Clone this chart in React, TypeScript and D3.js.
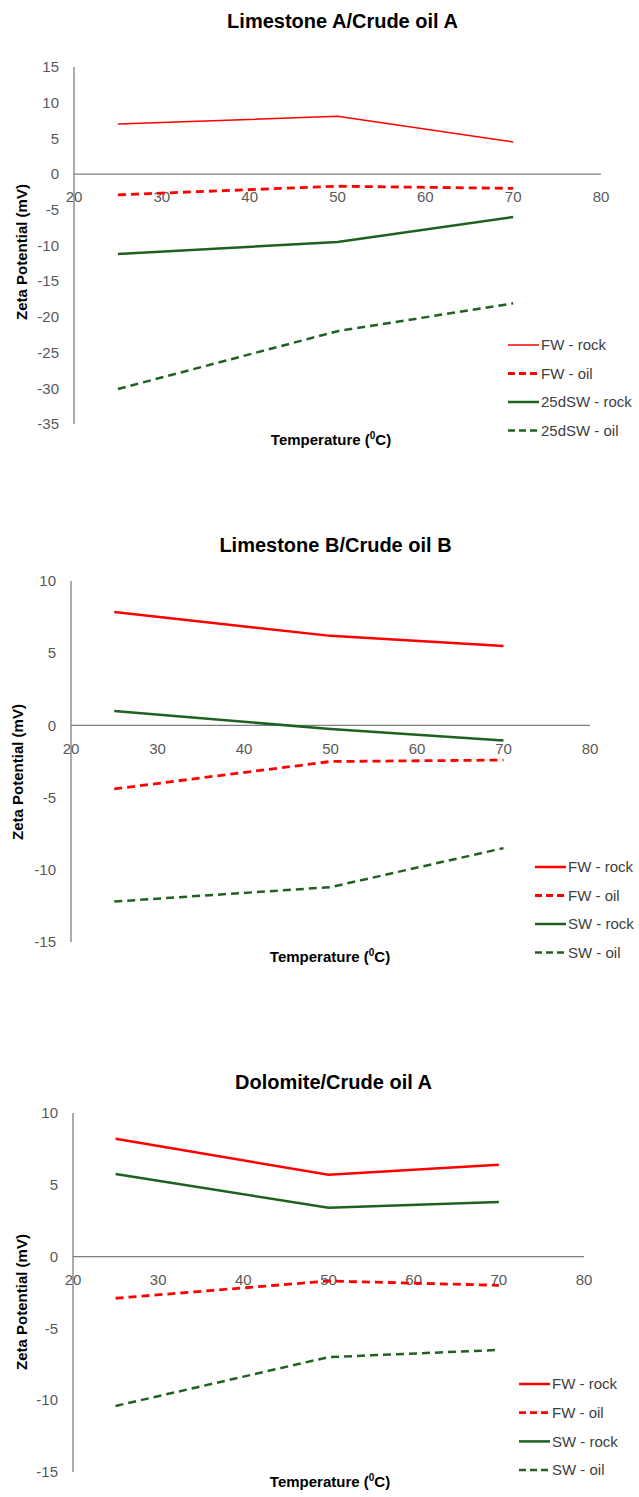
import React from "react";
import * as d3 from "d3";

// ---------- data ----------
const temperatures = [25, 50, 70];
const xTicks = [20, 30, 40, 50, 60, 70, 80];

const titles = ["Limestone A/Crude oil A", "Limestone B/Crude oil B", "Dolomite/Crude oil A"];

const yTicksA = [15, 10, 5, 0, -5, -10, -15, -20, -25, -30, -35];
const yTicksB = [10, 5, 0, -5, -10, -15];
const yTicksC = [10, 5, 0, -5, -10, -15];

const namesA = ["FW - rock", "FW - oil", "25dSW - rock", "25dSW - oil"];
const namesB = ["FW - rock", "FW - oil", "SW - rock", "SW - oil"];
const namesC = ["FW - rock", "FW - oil", "SW - rock", "SW - oil"];

// Limestone A / Crude oil A
const a_fwRock = [7.0, 8.1, 4.5];
const a_fwOil = [-2.9, -1.7, -2.0];
const a_swRock = [-11.2, -9.5, -6.0];
const a_swOil = [-30.1, -22.0, -18.1];

// Limestone B / Crude oil B
const b_fwRock = [7.85, 6.2, 5.5];
const b_fwOil = [-4.4, -2.5, -2.4];
const b_swRock = [1.0, -0.25, -1.05];
const b_swOil = [-12.2, -11.2, -8.5];

// Dolomite / Crude oil A
const c_fwRock = [8.2, 5.7, 6.4];
const c_fwOil = [-2.9, -1.7, -2.0];
const c_swRock = [5.75, 3.4, 3.8];
const c_swOil = [-10.4, -7.0, -6.5];

// ---------- styles ----------
const RED = "#ff0000";
const GREEN = "#1f621f";
const seriesStyle = [
  { color: RED, dash: null },
  { color: RED, dash: "8,5" },
  { color: GREEN, dash: null },
  { color: GREEN, dash: "8,5" },
];

const TICK_FONT = "'Liberation Sans', Arial, sans-serif";

type PanelProps = {
  title: string;
  titleY: number;
  names: string[];
  values: number[][];
  yTicks: number[];
  widths: number[];
  x0: number;
  x1: number;
  y0: number; // top pixel
  y1: number; // bottom pixel
  yLabelX: number;
  yLabelY: number;
  xLabelY: number;
  xLabelX: number;
  legX: number;
  legY: number;
  legStep: number;
};

function Panel(p: PanelProps) {
  const yMax = d3.max(p.yTicks) as number;
  const yMin = d3.min(p.yTicks) as number;
  const x = d3.scaleLinear().domain([20, 80]).range([p.x0, p.x1]);
  const y = d3.scaleLinear().domain([yMin, yMax]).range([p.y1, p.y0]);
  const line = d3
    .line<number>()
    .x((_, i) => x(temperatures[i]))
    .y((d) => y(d));
  const zeroY = y(0);
  return (
    <g>
      <text
        x={(p.x0 + p.x1) / 2 + 5}
        y={p.titleY}
        textAnchor="middle"
        fontFamily="'Liberation Sans', Arial, sans-serif"
        fontWeight="bold"
        fontSize={20}
        fill="#000"
      >
        {p.title}
      </text>
      {/* y axis */}
      <line x1={p.x0} x2={p.x0} y1={p.y0} y2={p.y1} stroke="#7f7f7f" strokeWidth={1.3} />
      {p.yTicks.map((t) => (
        <text
          key={"y" + t}
          x={p.x0 - 15}
          y={y(t)}
          dy="0.35em"
          textAnchor="end"
          fontFamily={TICK_FONT}
          fontSize={15}
          fill="#595959"
        >
          {t}
        </text>
      ))}
      {/* x axis at zero */}
      <line x1={p.x0} x2={p.x1} y1={zeroY} y2={zeroY} stroke="#7f7f7f" strokeWidth={1.3} />
      {xTicks.map((t) => (
        <text
          key={"x" + t}
          x={x(t)}
          y={zeroY + 23}
          dy="0.35em"
          textAnchor="middle"
          fontFamily={TICK_FONT}
          fontSize={15}
          fill="#595959"
        >
          {t}
        </text>
      ))}
      {/* series */}
      {p.values.map((vals, i) => (
        <path
          key={"s" + i}
          d={line(vals) as string}
          fill="none"
          stroke={seriesStyle[i].color}
          strokeWidth={p.widths[i]}
          strokeDasharray={seriesStyle[i].dash ?? undefined}
        />
      ))}
      {/* axis titles */}
      <text
        transform={`translate(${p.yLabelX},${p.yLabelY}) rotate(-90)`}
        textAnchor="middle"
        dy="0.35em"
        fontFamily={TICK_FONT}
        fontWeight="bold"
        fontSize={15}
        fill="#000"
      >
        Zeta Potential (mV)
      </text>
      <text
        x={p.xLabelX}
        y={p.xLabelY}
        dy="0.35em"
        textAnchor="middle"
        fontFamily={TICK_FONT}
        fontWeight="bold"
        fontSize={15}
        fill="#000"
      >
        Temperature (<tspan fontSize={10} dy="-0.6em">0</tspan>
        <tspan dy="0.4em">C)</tspan>
      </text>
      {/* legend */}
      {p.names.map((n, i) => {
        const ly = p.legY + i * p.legStep;
        return (
          <g key={"l" + i}>
            <line
              x1={p.legX}
              x2={p.legX + 31}
              y1={ly}
              y2={ly}
              stroke={seriesStyle[i].color}
              strokeWidth={p.widths[i]}
              strokeDasharray={seriesStyle[i].dash ? "7,4" : undefined}
            />
            <text
              x={p.legX + 33}
              y={ly}
              dy="0.35em"
              fontFamily={TICK_FONT}
              fontSize={15}
              fill="#404040"
            >
              {n}
            </text>
          </g>
        );
      })}
    </g>
  );
}

export default function App() {
  return (
    <svg
      width={639}
      height={1497}
      style={{ position: "absolute", left: 0, top: 0, background: "#fff" }}
    >
      <rect width={639} height={1497} fill="#fff" />
      <Panel
        title={titles[0]}
        titleY={28}
        names={namesA}
        values={[a_fwRock, a_fwOil, a_swRock, a_swOil]}
        yTicks={yTicksA}
        widths={[1.5, 2.8, 2.5, 2.5]}
        x0={74}
        x1={601}
        y0={67}
        y1={424}
        yLabelX={22}
        yLabelY={252}
        xLabelX={331}
        xLabelY={440}
        legX={508}
        legY={345}
        legStep={28.5}
      />
      <Panel
        title={titles[1]}
        titleY={552}
        names={namesB}
        values={[b_fwRock, b_fwOil, b_swRock, b_swOil]}
        yTicks={yTicksB}
        widths={[2.5, 2.8, 2.5, 2.5]}
        x0={71}
        x1={590}
        y0={581}
        y1={942}
        yLabelX={18}
        yLabelY={772}
        xLabelX={330}
        xLabelY={957}
        legX={535}
        legY={867}
        legStep={28.5}
      />
      <Panel
        title={titles[2]}
        titleY={1089}
        names={namesC}
        values={[c_fwRock, c_fwOil, c_swRock, c_swOil]}
        yTicks={yTicksC}
        widths={[2.5, 2.8, 2.5, 2.5]}
        x0={73}
        x1={584}
        y0={1113}
        y1={1472}
        yLabelX={22}
        yLabelY={1302}
        xLabelX={330}
        xLabelY={1482}
        legX={519}
        legY={1384}
        legStep={28.7}
      />
    </svg>
  );
}
